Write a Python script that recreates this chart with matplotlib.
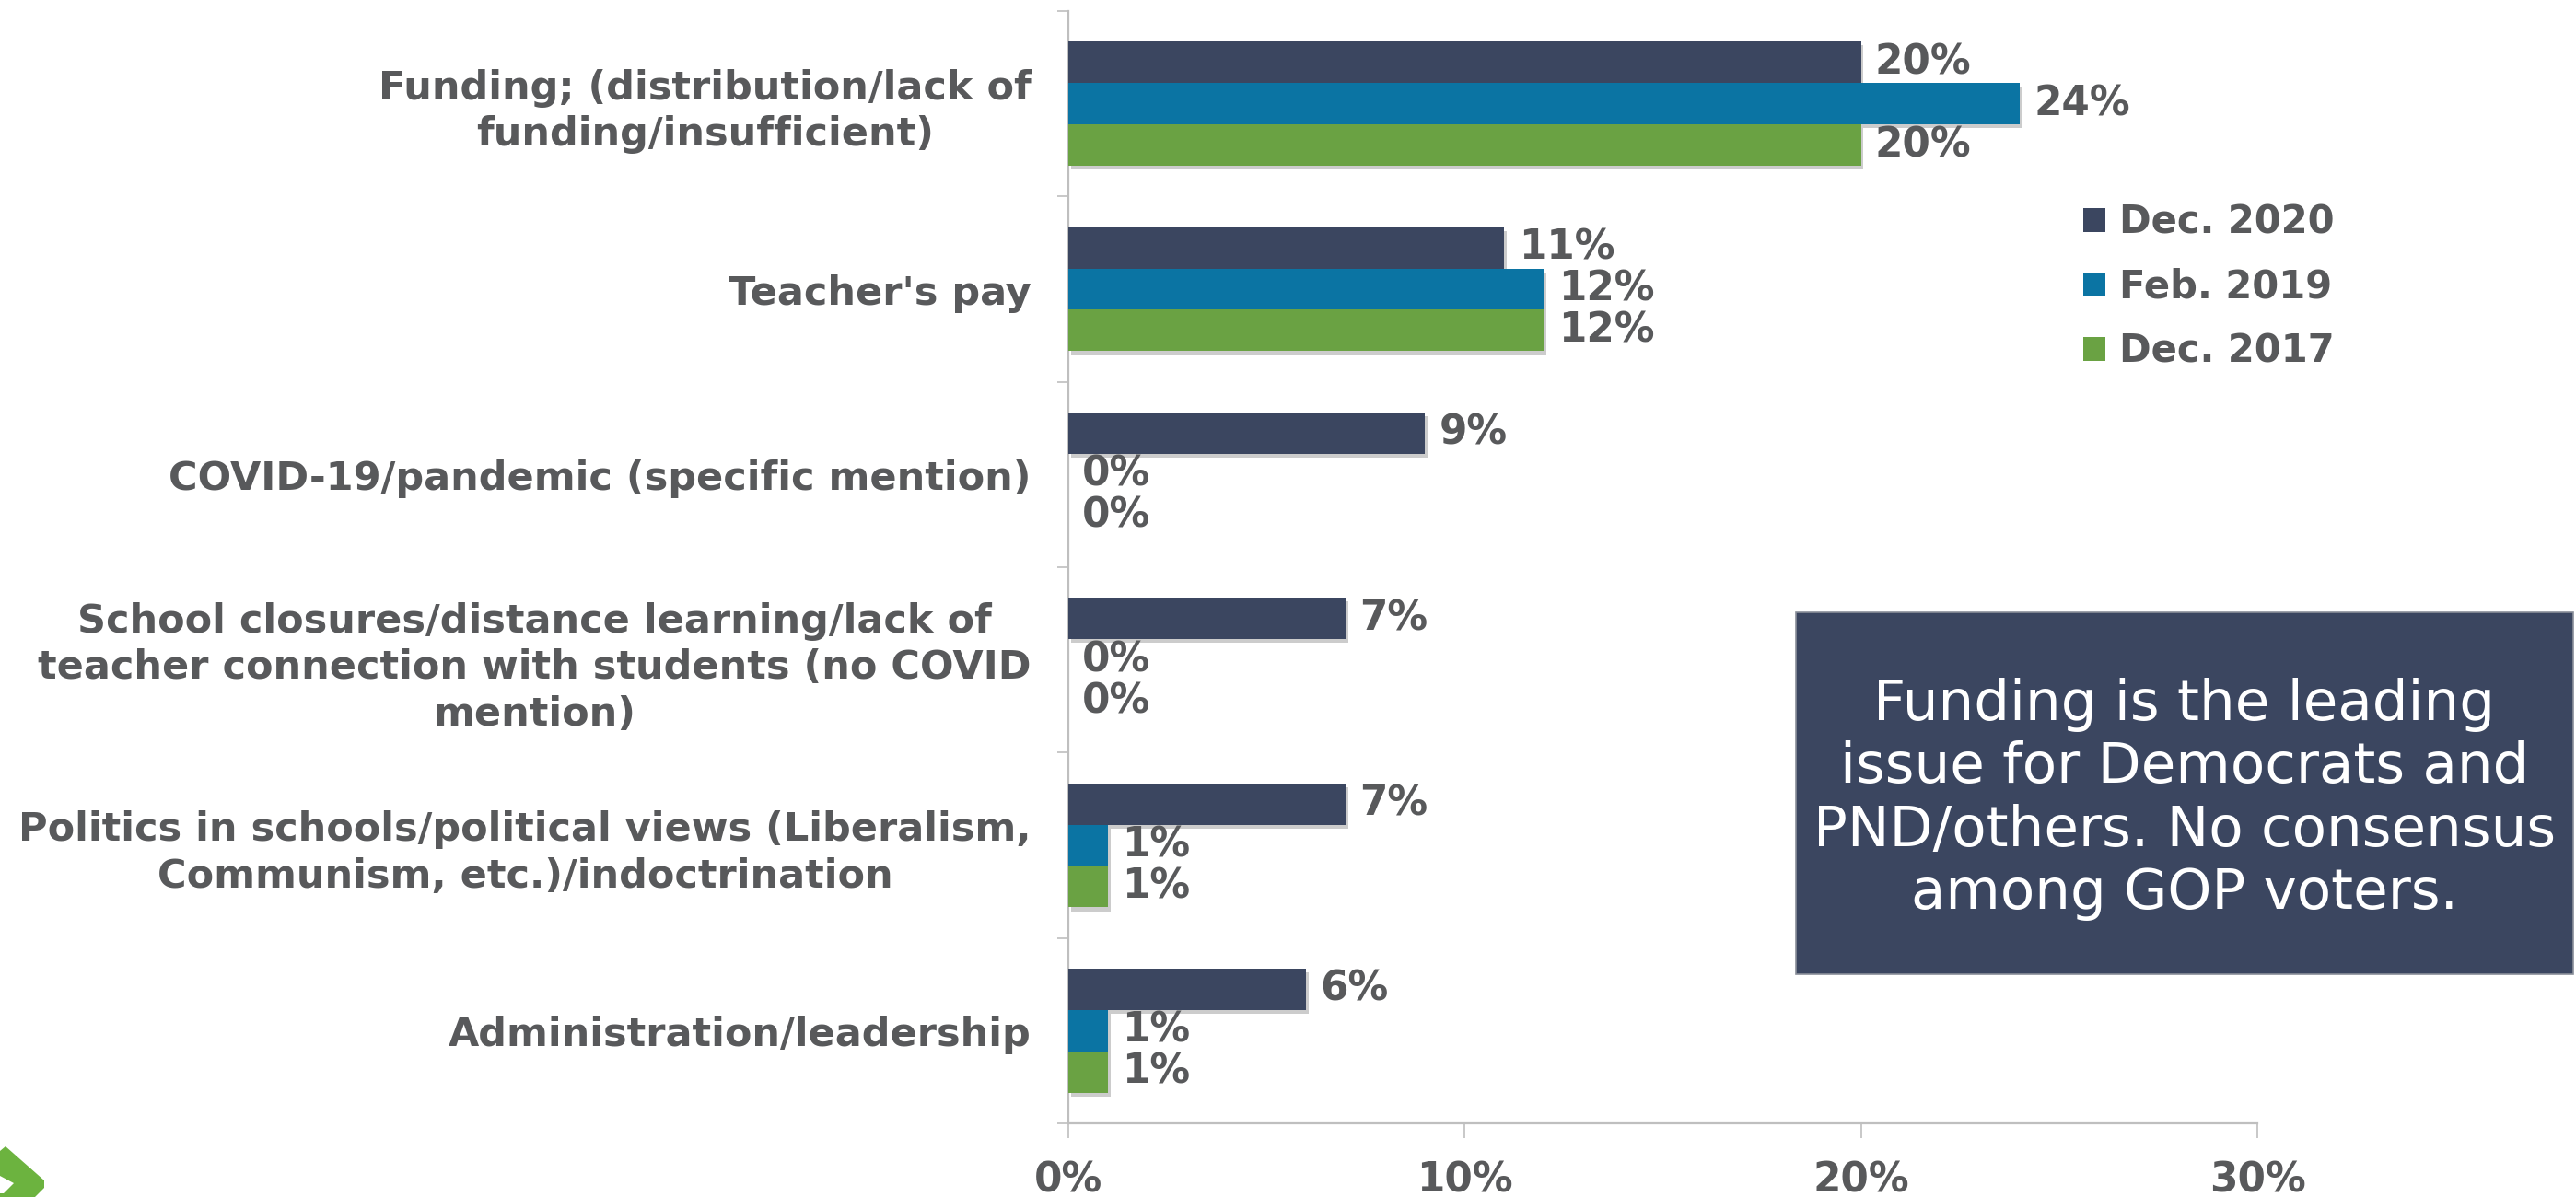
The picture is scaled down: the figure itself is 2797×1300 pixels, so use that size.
import matplotlib
matplotlib.use("Agg")
import matplotlib.pyplot as plt
import matplotlib.patheffects as pe
from matplotlib.patches import Rectangle, Polygon, Patch
import numpy as np

plt.rcParams['font.family'] = ['DejaVu Sans']

categories = [
    "Funding; (distribution/lack of\nfunding/insufficient)",
    "Teacher's pay",
    "COVID-19/pandemic (specific mention)",
    "School closures/distance learning/lack of\nteacher connection with students (no COVID\nmention)",
    "Politics in schools/political views (Liberalism,\nCommunism, etc.)/indoctrination",
    "Administration/leadership",
]
series_names = ["Dec. 2020", "Feb. 2019", "Dec. 2017"]
dec_2020 = [20, 11, 9, 7, 7, 6]
feb_2019 = [24, 12, 0, 0, 1, 1]
dec_2017 = [20, 12, 0, 0, 1, 1]
x_ticks = [0, 10, 20, 30]
x_tick_labels = ["0%", "10%", "20%", "30%"]
note_text = "Funding is the leading\nissue for Democrats and\nPND/others. No consensus\namong GOP voters."

colors = ["#3b4660", "#0b74a3", "#6aa243"]
text_gray = "#58595b"
axis_gray = "#bfbfbf"

W, H = 2797, 1300
fig = plt.figure(figsize=(W / 100, H / 100), dpi=100)
ax = fig.add_axes([1160 / W, 1 - 1220 / H, (2451 - 1160) / W, (1220 - 12) / H])

n = len(categories)
y = np.arange(n)
h = 0.223
series = [dec_2020, feb_2019, dec_2017]
offsets = [-h, 0, h]
shadow = [pe.SimplePatchShadow(offset=(2, -3), shadow_rgbFace="#000000", alpha=0.2), pe.Normal()]
for vals, off, col in zip(series, offsets, colors):
    bars = ax.barh(y + off, vals, height=h, color=col, linewidth=0, zorder=3)
    for b in bars:
        if b.get_width() > 0:
            b.set_path_effects(shadow)
    for yi, v in zip(y + off, vals):
        ax.annotate(f"{v}%", xy=(v, yi), xytext=(11, 0), textcoords="offset points",
                    va="center", ha="left", fontsize=31.5, fontweight="bold", color=text_gray)

ax.set_xlim(0, 30)
ax.set_ylim(n - 0.5, -0.5)

for s in ["top", "right"]:
    ax.spines[s].set_visible(False)
for s in ["left", "bottom"]:
    ax.spines[s].set_color(axis_gray)
    ax.spines[s].set_linewidth(1.6)

ax.set_xticks(x_ticks)
ax.set_xticklabels(x_tick_labels, fontsize=31.5, fontweight="bold", color=text_gray)
ax.tick_params(axis="x", length=11.5, width=1.2, color=axis_gray, pad=18)

ax.set_yticks(y)
ax.set_yticklabels(categories, fontsize=31, fontweight="bold", color=text_gray)
for lbl in ax.get_yticklabels():
    lbl.set_multialignment("center")
    lbl.set_linespacing(1.25)
ax.tick_params(axis="y", which="major", length=0, pad=29)
ax.set_yticks(np.arange(n + 1) - 0.5, minor=True)
ax.tick_params(axis="y", which="minor", length=9, width=1.2, color=axis_gray)

handles = [Patch(facecolor=c, edgecolor="none") for c in colors]
leg = ax.legend(handles, series_names, loc="upper left",
                bbox_to_anchor=(2262 / W, 1 - 221 / H), bbox_transform=fig.transFigure,
                frameon=False, fontsize=30, handlelength=0.58, handleheight=0.58,
                handletextpad=0.35, labelspacing=0.67, borderaxespad=0, borderpad=0)
for t in leg.get_texts():
    t.set_color(text_gray)
    t.set_fontweight("bold")

# note box
fig.patches.append(Rectangle((1950 / W, 1 - 1058 / H), (2794 - 1950) / W, (1058 - 665) / H,
                             transform=fig.transFigure, facecolor="#3b4660",
                             edgecolor="#8a8f99", linewidth=1.2, zorder=5))
fig.text(2372 / W, 1 - 868 / H, note_text, ha="center", va="center", fontsize=44,
         color="white", linespacing=1.2, multialignment="center", zorder=6)

# logo fragment at bottom-left
fig.patches.append(Polygon([(0 / W, 1 - 1250 / H), (6 / W, 1 - 1245 / H), (48 / W, 1 - 1282 / H),
                            (48 / W, 1 - 1290 / H), (38 / W, 1 - 1300 / H), (0, 0)],
                           closed=True, transform=fig.transFigure, facecolor="#6cb33f",
                           edgecolor="none", zorder=5))
fig.patches.append(Polygon([(0, 1 - 1277 / H), (15 / W, 1 - 1285 / H), (4 / W, 1 - 1296 / H),
                            (0, 1 - 1296 / H)],
                           closed=True, transform=fig.transFigure, facecolor="white",
                           edgecolor="none", zorder=6))

fig.savefig("out.png", dpi=100, facecolor="white")
